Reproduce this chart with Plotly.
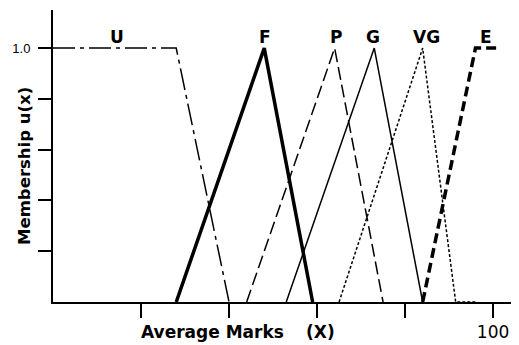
import plotly.graph_objects as go

# membership functions (x in marks, y in membership)
u_x = [0, 28, 40]
u_y = [1, 1, 0]
f_x = [28, 48, 59]
f_y = [0, 1, 0]
p_x = [44, 64, 75]
p_y = [0, 1, 0]
g_x = [53, 73, 84]
g_y = [0, 1, 0]
vg_x = [65, 84, 91.5, 96]
vg_y = [0, 1, 0, 0]
e_x = [84, 96, 101]
e_y = [0, 1, 1]

labels = ["U", "F", "P", "G", "VG", "E"]
label_x = [14.5, 48.2, 64.3, 72.7, 84.8, 98.4]

x_ticks = [20, 40, 60, 80, 100]
x_ticktext = ["", "", "", "", "100"]
y_ticks = [0.2, 0.4, 0.6, 0.8, 1.0]
y_ticktext = ["", "", "", "", "1.0"]

bold = dict(family="DejaVu Sans", size=17, color="black", weight="bold")

fig = go.Figure()

#each set gets its own line style like the original figure
fig.add_scatter(x=u_x, y=u_y, mode="lines", line=dict(color="black", width=1.5, dash="22px,5px,4px,5px"))
fig.add_scatter(x=f_x, y=f_y, mode="lines", line=dict(color="black", width=3.5))
fig.add_scatter(x=p_x, y=p_y, mode="lines", line=dict(color="black", width=1.5, dash="13px,5px"))
fig.add_scatter(x=g_x, y=g_y, mode="lines", line=dict(color="black", width=1.5))
fig.add_scatter(x=vg_x, y=vg_y, mode="lines", line=dict(color="black", width=1.5, dash="3px,2px"))
fig.add_scatter(x=e_x, y=e_y, mode="lines", line=dict(color="black", width=3.5, dash="10px,5px"))

for lab, lx in zip(labels, label_x):
    fig.add_annotation(x=lx, y=1.043, text=lab, showarrow=False, font=bold)

# axis titles placed by hand, the x one is off centre in the original
fig.add_annotation(xref="paper", yref="paper", x=0.3475, y=-0.103, text="Average Marks",
                   xanchor="center", yanchor="middle", showarrow=False, font=bold)
fig.add_annotation(xref="paper", yref="paper", x=0.5817, y=-0.103, text="(X)",
                   xanchor="center", yanchor="middle", showarrow=False, font=bold)
fig.add_annotation(xref="paper", yref="paper", x=-0.061, y=0.466, text="Membership u(x)",
                   xanchor="center", yanchor="middle", textangle=-90, showarrow=False,
                   font=dict(bold, size=16.5))

fig.update_xaxes(range=[0, 104.3], showline=True, linecolor="black", linewidth=2,
                 ticks="outside", ticklen=14, tickwidth=2, tickcolor="black",
                 tickvals=x_ticks, ticktext=x_ticktext, showgrid=False, zeroline=False,
                 automargin=False,
                 tickfont=dict(family="DejaVu Sans", size=17, color="black"))
fig.update_yaxes(range=[0, 1.15], showline=True, linecolor="black", linewidth=2,
                 ticks="outside", ticklen=13, tickwidth=2, tickcolor="black",
                 tickvals=y_ticks, ticktext=y_ticktext, showgrid=False, zeroline=False,
                 ticklabelstandoff=5, automargin=False,
                 tickfont=dict(family="Liberation Sans", size=13, color="black"))

# the page body has an 8px margin, so the figure is made 8px smaller
fig.update_layout(width=511, height=337, showlegend=False,
                  margin=dict(l=45, r=7, t=2, b=43),
                  plot_bgcolor="white", paper_bgcolor="white")

fig.write_html("out.html")
